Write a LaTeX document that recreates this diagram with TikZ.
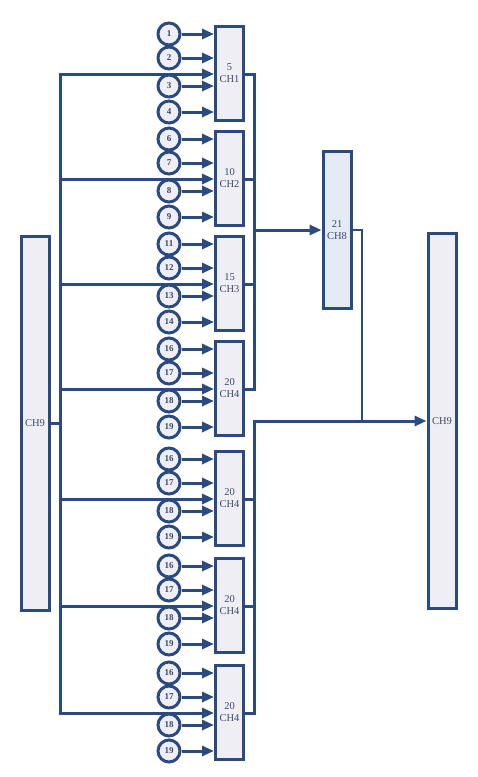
\documentclass[tikz,border=0pt]{standalone}
\usepackage{fontspec}
\setmainfont{Liberation Serif}
\usetikzlibrary{arrows.meta}
\definecolor{chline}{HTML}{2A4A80}
\definecolor{chfill}{HTML}{EEEEF4}
\definecolor{chblue}{HTML}{E5EBF5}
\definecolor{chtext}{HTML}{3C4B6B}

\begin{document}
\begin{tikzpicture}[x=1pt,y=-1pt,
	circ_node/.style={circle,draw=chline,fill=chfill,line width=3pt,minimum size=22pt,inner sep=0pt,text=chtext,font=\fontsize{9}{10}\selectfont\bfseries},
	ch_node/.style={rectangle,draw=chline,fill=chfill,line width=3pt,minimum width=28pt,inner sep=0pt,align=center,text=chtext,font=\fontsize{10.5}{12}\selectfont},
	link/.style={draw=chline,line width=3pt,-{Triangle[length=12pt,width=10pt]}},
	wire/.style={draw=chline,line width=3pt,line cap=rect}]

		\useasboundingbox (0,0) rectangle (478,777);

		\node[ch_node,minimum height=374pt] (ch9l) at (35,423) {CH9};
		\node[ch_node,minimum height=375pt] (ch9r) at (442,421) {CH9};
		\node[ch_node,minimum height=157pt,fill=chblue] (ch8) at (337,230) {21\\CH8};

		\foreach \g/\t/\n/\k/\a/\b/\c/\d in {1/25/5/1/1/2/3/4,2/130/10/2/6/7/8/9,3/235/15/3/11/12/13/14,4/340/20/4/16/17/18/19,5/450/20/4/16/17/18/19,6/557/20/4/16/17/18/19,7/664/20/4/16/17/18/19}
		{
		\node[ch_node,minimum height=94pt] (ch\g) at (229.5,\t+48.5) {\n\\CH\k};
		\node[circ_node] (c\g-1) at (169,\t+9) {\a};
		\node[circ_node] (c\g-2) at (169,\t+33) {\b};
		\node[circ_node] (c\g-3) at (169,\t+61) {\c};
		\node[circ_node] (c\g-4) at (169,\t+87) {\d};
		\coordinate (bus\g) at (60,\t+49);
		\coordinate (out\g) at (254,\t+49);

		\draw[link] (c\g-1) -- (c\g-1 -| ch\g.west);
		\draw[link] (c\g-2) -- (c\g-2 -| ch\g.west);
		\draw[link] (c\g-3) -- (c\g-3 -| ch\g.west);
		\draw[link] (c\g-4) -- (c\g-4 -| ch\g.west);
		\draw[link] (bus\g) -- (bus\g -| ch\g.west);
		\draw[wire] (out\g -| ch\g.east) -- (out\g);
		}

		\coordinate (tap) at (362,421);

		\draw[wire] (bus1) -- (bus7);
		\draw[wire] (ch9l.east) -- (ch9l.east -| bus1);
		\draw[wire] (out1) -- (out4);
		\draw[wire] (out7) -- (out7 |- ch9r.west);
		\draw[link] (out1 |- ch8.west) -- (ch8.west);
		\draw[link] (out7 |- ch9r.west) -- (ch9r.west);
		\draw[draw=chline,line width=1.2pt] (ch8.east) -| (tap);
		\end{tikzpicture}
\end{document}
